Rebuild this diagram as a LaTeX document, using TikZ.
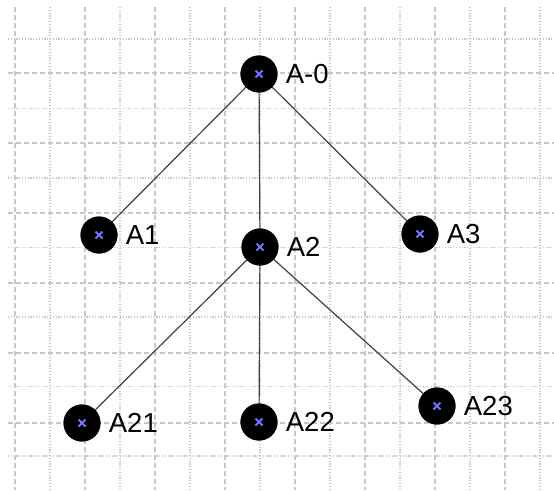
\documentclass[tikz,border=0pt]{standalone}
\usepackage{fontspec}
\setsansfont{Liberation Sans}
\usepackage{tikz}

\tikzset{
    gridA/.style={draw=black!22, line width=1.1pt, dash pattern=on 5pt off 3pt},
    gridB/.style={draw=black!22, line width=1.1pt, dash pattern=on 1.2pt off 1.6pt},
    vertex/.style={circle, fill=black, minimum size=37pt, inner sep=0pt},
    branch/.style={draw=black!75, line width=1.2pt},
    crossmark/.style={draw=blue!55!white, line width=1.8pt},
    lbl/.style={anchor=west, xshift=8pt, inner sep=0pt, font=\sffamily\fontsize{27.5}{30}\selectfont}
}

\begin{document}
\begin{tikzpicture}[x=1pt, y=-1pt]
    \useasboundingbox (0,0) rectangle (554,490);

    % Background grid, dashed and dotted lines alternate
    \foreach \x in {15,85,...,505} {
        \draw[gridA] (\x,7) -- (\x,490);
    }
    \foreach \x in {50,120,...,540} {
        \draw[gridB] (\x,7) -- (\x,490);
    }
    \foreach \y in {73,143,...,423} {
        \draw[gridA] (8,\y) -- (554,\y);
    }
    \foreach \y in {39,108.5,...,460} {
        \draw[gridB] (8,\y) -- (554,\y);
    }

    % Tree nodes
    \node[vertex] (a0) at (259,74) {};
    \node[vertex] (a1) at (99,235) {};
    \node[vertex] (a2) at (260,247) {};
    \node[vertex] (a3) at (420,234) {};
    \node[vertex] (a21) at (82,423) {};
    \node[vertex] (a22) at (259,422) {};
    \node[vertex] (a23) at (437,406) {};

    % Branches
    \draw[branch] (a0.center) -- (a1.center);
    \draw[branch] (a0.center) -- (a2.center);
    \draw[branch] (a0.center) -- (a3.center);
    \draw[branch] (a2.center) -- (a21.center);
    \draw[branch] (a2.center) -- (a22.center);
    \draw[branch] (a2.center) -- (a23.center);

    % Redraw discs on top of the branches
    \foreach \n in {a0,a1,a2,a3,a21,a22,a23} {
        \fill (\n) circle (18.5);
        \draw[crossmark] ([shift={(-3.5,-3.5)}]\n.center) -- ([shift={(3.5,3.5)}]\n.center);
        \draw[crossmark] ([shift={(-3.5,3.5)}]\n.center) -- ([shift={(3.5,-3.5)}]\n.center);
    }

    % Labels
    \node[lbl] (t0) at (a0.east) {A-0};
    \node[lbl] (t1) at (a1.east) {A1};
    \node[lbl] (t2) at (a2.east) {A2};
    \node[lbl] (t3) at (a3.east) {A3};
    \node[lbl] (t21) at (a21.east) {A21};
    \node[lbl] (t22) at (a22.east) {A22};
    \node[lbl] (t23) at (a23.east) {A23};

\end{tikzpicture}
\end{document}
